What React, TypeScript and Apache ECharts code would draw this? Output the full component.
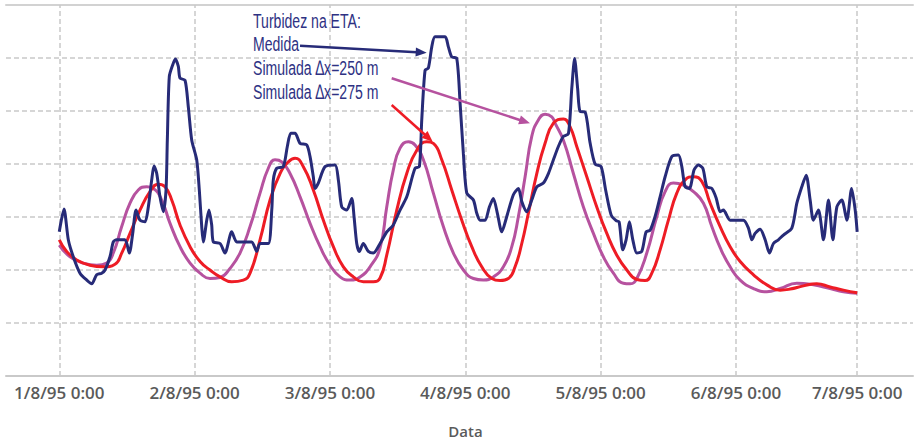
import React, { useEffect, useRef } from "react";
import * as echarts from "echarts";

// Hours since 1/8/95 0:00
const tickHours = [0, 24, 48, 72, 96, 120, 141.5];
const tickLabels = [
  "1/8/95 0:00",
  "2/8/95 0:00",
  "3/8/95 0:00",
  "4/8/95 0:00",
  "5/8/95 0:00",
  "6/8/95 0:00",
  "7/8/95 0:00",
];

// Turbidez medida
const medidaHours = [
  0, 0.83, 1.6, 2.48, 3.67, 4.86, 5.75, 6.63, 7.52, 8.11, 8.99, 9.58, 10.18, 11.65, 12.42, 13.02, 13.61, 14.31, 15.2,
  15.79, 16.39, 16.8, 17.28, 17.86, 18.45, 18.93, 19.16, 19.51, 20.11, 20.58, 21.11, 21.41, 22.3, 22.88, 23.49, 24.37,
  24.83, 25.26, 25.54, 26.15, 26.55, 27.03, 27.32, 28.51, 29.39, 30.58, 31.47, 32.64, 34.13, 35.01, 35.6, 37.07, 37.68,
  37.96, 38.56, 39.73, 40.44, 41.05, 41.81, 42.7, 43.88, 44.47, 45.05, 45.36, 45.94, 47.13, 48.9, 49.49, 50.09, 50.98,
  51.87, 52.27, 52.75, 53.21, 53.92, 54.81, 55.7, 56.89, 58.07, 58.36, 59.24, 60.43, 61.62, 63.09, 63.86, 64.28, 64.87,
  65.45, 66.06, 66.64, 68.42, 69.0, 69.6, 70.49, 71.08, 71.66, 72.27, 73.44, 74.04, 74.63, 75.51, 76.27, 76.98, 77.69,
  78.47, 79.36, 80.53, 81.42, 82.02, 82.91, 83.79, 84.68, 85.85, 86.74, 87.63, 88.51, 89.4, 90.29, 90.89, 91.39, 91.92,
  92.36, 93.25, 94.13, 95.02, 96.09, 96.89, 97.86, 98.75, 99.28, 99.93, 100.52, 101.11, 101.71, 102.42, 103.3, 104.07,
  104.78, 105.66, 106.55, 107.44, 108.63, 109.8, 110.4, 110.99, 111.75, 112.58, 113.35, 114.13, 114.84, 115.72, 116.49,
  117.2, 117.78, 118.97, 121.33, 122.22, 122.82, 123.4, 124.29, 125.18, 125.94, 126.65, 127.53, 128.42, 129.91, 130.8,
  131.68, 132.45, 133.16, 133.74, 134.63, 135.52, 136.41, 137.19, 137.9, 138.78, 139.67, 140.52, 141.15, 141.5,
];
const medidaValues = [
  27.2, 31.5, 25.7, 22.5, 19.4, 18.1, 17.4, 19.1, 19.4, 20.0, 22.5, 25.3, 25.7, 25.7, 23.2, 26.9, 31.3, 29.4, 29.1,
  31.9, 37.0, 39.6, 38.2, 33.8, 31.0, 35.1, 44.5, 56.5, 58.7, 59.8, 58.4, 56.2, 55.8, 50.8, 44.5, 40.8,
  35.1, 28.2, 25.3, 29.4, 31.3, 28.5, 25.3, 25.0, 23.2, 27.2, 25.3, 25.3, 25.3, 23.5, 25.0, 25.0, 31.3,
  37.0, 39.2, 39.5, 43.3, 45.8, 45.8, 43.9, 43.6, 41.4, 37.6, 35.4, 36.4, 39.5, 39.8, 37.0, 31.9, 31.3,
  33.5, 30.1, 25.0, 23.5, 25.0, 23.5, 23.2, 25.0, 27.2, 27.5, 28.5, 31.3, 33.8, 39.2, 39.5, 48.3, 57.7,
  58.1, 62.1, 64.0, 64.0, 62.1, 60.2, 59.9, 51.5, 42.0, 34.5, 33.2, 30.7, 29.4, 29.4, 31.9, 33.5, 30.7,
  27.2, 30.1, 34.2, 35.4, 32.9, 31.0, 33.2, 35.7, 36.4, 38.2, 40.8, 43.3, 45.2, 45.7, 54.3, 59.9, 54.3,
  49.9, 49.8, 44.0, 40.0, 39.5, 35.1, 30.4, 29.3, 29.1, 23.8, 25.7, 29.1, 25.7, 23.2, 23.5, 27.2,
  27.5, 30.1, 33.8, 37.6, 41.4, 41.7, 39.5, 35.7, 35.4, 38.9, 39.8, 39.2, 35.7, 35.4, 33.6,
  31.0, 31.3, 29.4, 29.4, 27.9, 25.7, 26.9, 27.7, 25.7, 23.2, 25.0, 25.7, 26.6, 27.9, 32.6,
  35.7, 37.9, 33.2, 29.4, 31.3, 25.7, 33.2, 25.7, 31.9, 33.2, 29.4, 35.4, 31.3, 27.2,
];

// Simulada Δx=250 m
const sim250Hours = [
  0, 1.9, 4.26, 6.63, 8.41, 9.58, 11.07, 12.54, 14.01, 15.5, 16.67, 18.16, 19.64, 21.41, 23.19, 24.96, 26.73, 28.51,
  30.28, 32.05, 33.83, 35.6, 37.07, 38.26, 39.45, 40.92, 42.7, 44.47, 46.25, 48.02, 49.79, 51.57, 53.34, 55.11, 56.89,
  58.07, 59.24, 60.43, 61.91, 63.09, 64.57, 66.34, 68.11, 69.89, 71.66, 73.44, 75.21, 76.98, 78.76, 80.25, 81.42, 82.61,
  83.79, 84.96, 86.15, 87.34, 87.92, 89.4, 91.17, 92.95, 94.72, 96.49, 98.27, 100.04, 101.23, 102.42, 104.19, 105.97,
  107.44, 108.92, 110.69, 112.46, 114.24, 115.72, 117.2, 118.97, 120.75, 123.11, 125.48, 127.84, 130.8, 133.74, 136.7,
  139.06, 141.5,
];
const sim250Values = [
  24.7, 22.5, 21.3, 20.9, 21.3, 23.2, 28.2, 32.6, 35.1, 35.7, 35.4, 33.2, 28.8, 24.4, 21.3, 19.4, 18.4, 18.6,
  20.3, 23.2, 28.2, 34.5, 39.2, 40.8, 40.4, 38.2, 33.8, 28.8, 24.4, 20.9, 18.7, 18.1, 18.7, 20.6, 24.2,
  31.9, 38.9, 43.0, 44.2, 43.6, 40.8, 34.5, 28.2, 23.2, 20.0, 18.4, 18.1, 18.7, 20.6, 24.4, 30.1, 37.6,
  45.2, 48.3, 49.4, 48.9, 47.7, 44.5, 38.2, 31.9, 26.9, 22.5, 19.4, 17.5, 17.4, 18.4, 23.2, 30.1,
  34.8, 36.4, 36.0, 34.8, 32.6, 28.2, 24.2, 20.6, 18.1, 16.5, 15.9, 16.5, 17.5, 17.2, 16.5,
  15.9, 15.6,
];

// Simulada Δx=275 m
const sim275Hours = [
  0, 1.31, 3.09, 5.45, 7.8, 9.88, 11.07, 12.54, 14.31, 16.09, 17.56, 18.75, 19.94, 21.41, 23.19, 24.96, 26.73, 28.51,
  30.58, 32.64, 33.83, 35.6, 37.38, 39.15, 40.62, 41.81, 43.28, 45.05, 46.83, 48.6, 50.38, 52.15, 53.92, 55.7, 56.89,
  58.07, 59.85, 61.62, 63.4, 65.17, 66.34, 67.83, 69.6, 71.38, 73.15, 74.92, 76.7, 78.17, 79.64, 80.83, 82.02, 83.19,
  84.68, 86.15, 87.63, 89.4, 90.59, 91.77, 93.55, 95.32, 97.1, 98.87, 100.65, 102.42, 103.89, 105.08, 106.55, 108.02,
  109.51, 110.99, 112.46, 113.95, 115.43, 117.2, 118.97, 120.75, 123.11, 125.48, 127.84, 129.61, 131.97, 134.33, 136.7,
  139.06, 141.5,
];
const sim275Values = [
  25.7, 23.5, 21.9, 20.9, 20.6, 21.1, 23.2, 26.9, 31.3, 34.8, 36.2, 35.7, 33.2, 28.5, 24.4, 21.6, 20.0, 18.7,
  17.8, 18.1, 19.4, 25.7, 33.2, 38.2, 40.4, 41.1, 39.5, 35.1, 29.4, 24.4, 20.6, 18.7, 17.8, 17.8, 18.5,
  22.8, 31.3, 38.2, 42.6, 44.2, 43.9, 40.8, 35.1, 29.4, 24.4, 20.6, 18.4, 18.0, 18.4, 20.6, 25.0, 30.7,
  38.2, 43.9, 47.7, 48.5, 47.0, 43.3, 37.6, 31.9, 26.9, 22.8, 20.0, 18.2, 18.0, 19.4, 23.8, 29.4,
  34.5, 37.0, 37.6, 36.7, 32.6, 28.2, 24.4, 21.6, 19.1, 17.2, 16.2, 16.4, 17.0, 17.4, 16.8,
  16.2, 15.7,
];

const annotationLines = ["Turbidez na ETA:", "Medida", "Simulada \u2206x=250 m", "Simulada \u2206x=275 m"];

const NAVY = "#272b78";
const PURPLE = "#b6529f";
const RED = "#ee1c25";
const GRID = "#c9c9c9";
const LABEL = "#5a5a5a";

const zip = (xs: number[], ys: number[]) => xs.map((x, i) => [x, ys[i]]);

function arrow(x1: number, y1: number, x2: number, y2: number, color: string, width: number) {
  const dx = x2 - x1;
  const dy = y2 - y1;
  const len = Math.sqrt(dx * dx + dy * dy);
  const ux = dx / len;
  const uy = dy / len;
  const hl = 11;
  const hw = 4.5;
  const bx = x2 - ux * hl;
  const by = y2 - uy * hl;
  return [
    {
      type: "line",
      shape: { x1, y1, x2: bx + ux * 1, y2: by + uy * 1 },
      style: { stroke: color, lineWidth: width },
      z: 20,
    },
    {
      type: "polygon",
      shape: {
        points: [
          [x2, y2],
          [bx - uy * hw, by + ux * hw],
          [bx + uy * hw, by - ux * hw],
        ],
      },
      style: { fill: color },
      z: 20,
    },
  ];
}

export default function App() {
  const ref = useRef<HTMLDivElement>(null);
  useEffect(() => {
    if (!ref.current) return;
    const chart = echarts.init(ref.current, undefined, { renderer: "svg" });
    const xMin = -9.45;
    const xMax = 151.4;
    const textX = 253;
    const textMiddles = [21, 44.4, 68.4, 92];
    const labelFont = "'Open Sans', sans-serif";
    const option: any = {
      animation: false,
      backgroundColor: "#ffffff",
      grid: { left: 6, right: 1, top: 5, bottom: 67, containLabel: false },
      xAxis: [
        {
          type: "value",
          min: xMin,
          max: xMax,
          position: "bottom",
          axisLine: { show: true, lineStyle: { color: GRID, width: 2 } },
          axisTick: { show: false },
          splitLine: { show: false },
          axisLabel: {
            customValues: tickHours,
            margin: 8,
            color: LABEL,
            fontSize: 17,
            fontWeight: 600,
            fontFamily: labelFont,
            formatter: (v: number) => {
              let best = 0;
              for (let i = 0; i < tickHours.length; i++) {
                if (Math.abs(tickHours[i] - v) < Math.abs(tickHours[best] - v)) best = i;
              }
              return tickLabels[best];
            },
          },
          name: "Data",
          nameLocation: "middle",
          nameGap: 47,
          nameTextStyle: {
            color: LABEL,
            fontSize: 15,
            fontWeight: 600,
            fontFamily: labelFont,
            padding: [0, 0, 0, 12],
          },
        },
        {
          type: "value",
          min: xMin,
          max: xMax,
          position: "top",
          axisLine: { show: true, lineStyle: { color: "#d2d2d2", width: 2 } },
          axisTick: { show: false },
          axisLabel: { show: false },
          splitLine: { show: false },
        },
      ],
      yAxis: {
        type: "value",
        min: 0,
        max: 70,
        interval: 10,
        axisLine: { show: false },
        axisTick: { show: false },
        axisLabel: { show: false },
        splitLine: { show: true, lineStyle: { color: GRID, type: [5, 3], width: 1.5 } },
      },
      series: [
        {
          type: "line",
          data: [],
          z: 1,
          silent: true,
          markLine: {
            silent: true,
            z: 1,
            symbol: ["none", "none"],
            label: { show: false },
            lineStyle: { color: GRID, type: [5, 3], width: 1.5 },
            data: tickHours.map((h) => ({ xAxis: h })),
          },
        },
        {
          name: "Simulada \u2206x=250 m",
          type: "line",
          data: zip(sim250Hours, sim250Values),
          showSymbol: false,
          smooth: 0.5,
          lineStyle: { color: PURPLE, width: 3 },
          z: 3,
        },
        {
          name: "Simulada \u2206x=275 m",
          type: "line",
          data: zip(sim275Hours, sim275Values),
          showSymbol: false,
          smooth: 0.5,
          lineStyle: { color: RED, width: 3 },
          z: 4,
        },
        {
          name: "Medida",
          type: "line",
          data: zip(medidaHours, medidaValues),
          showSymbol: false,
          smooth: 0.25,
          lineStyle: { color: NAVY, width: 3 },
          z: 5,
        },
      ],
      graphic: [
        ...annotationLines.map((t, i) => ({
          type: "text",
          x: textX,
          y: textMiddles[i],
          scaleX: 0.67,
          z: 20,
          style: {
            x: 0,
            y: 0,
            text: t,
            fill: "#2e3183",
            fontSize: 21,
            fontFamily: "'Liberation Sans', Arial, sans-serif",
            verticalAlign: "middle",
            align: "left",
          },
        })),
        ...arrow(300, 45.7, 426.7, 52.7, NAVY, 2.5),
        ...arrow(391.7, 78.3, 530, 123.3, PURPLE, 2.5),
        ...arrow(391.7, 105, 432.7, 141.7, RED, 2.5),
      ],
    };
    chart.setOption(option);
    return () => chart.dispose();
  }, []);
  return (
    <div
      ref={ref}
      style={{ position: "fixed", left: 0, top: 0, width: 914, height: 443, background: "#fff" }}
    />
  );
}
